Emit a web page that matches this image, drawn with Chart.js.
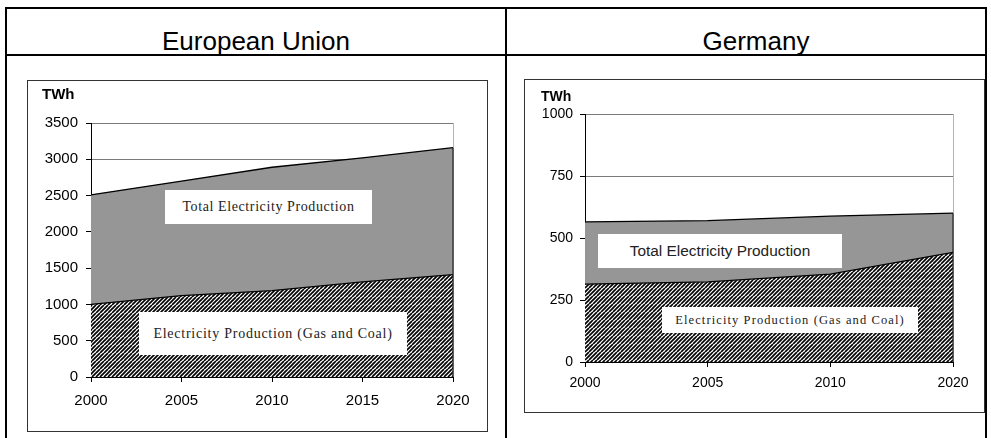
<!DOCTYPE html>
<html>
<head>
<meta charset="utf-8">
<script src="https://cdn.jsdelivr.net/npm/chart.js@4.4.0/dist/chart.umd.min.js"></script>
<style>
body { margin:0; background:#fff; width:991px; height:438px; overflow:hidden; position:relative; font-family:"Liberation Sans", Arial, sans-serif; }
.ln { position:absolute; background:#000; }
.head { position:absolute; top:24px; height:34px; line-height:34px; font-size:26px; text-align:center; white-space:nowrap; }
.frame { position:absolute; border:1px solid #333; box-sizing:border-box; }
.wrap { position:absolute; }
.twh { position:absolute; font-weight:bold; line-height:1; }
.box { position:absolute; background:#fff; text-align:center; white-space:nowrap; color:#222; font-family:"Liberation Serif", "Times New Roman", serif; }
</style>
</head>
<body>
<!-- table lines -->
<div class="ln" style="left:5px;top:7px;width:982px;height:2px"></div>
<div class="ln" style="left:5px;top:54px;width:982px;height:2px"></div>
<div class="ln" style="left:5px;top:7px;width:2px;height:431px"></div>
<div class="ln" style="left:505px;top:7px;width:2px;height:431px"></div>
<div class="ln" style="left:985px;top:7px;width:2px;height:431px"></div>

<div class="head" style="left:7px;width:498px">European Union</div>
<div class="head" style="left:656px;width:200px">Germany</div>

<div class="frame" style="left:27px;top:80px;width:461px;height:352px"></div>
<div class="frame" style="left:524px;top:79px;width:461px;height:334px"></div>

<div class="wrap" style="left:28px;top:81px;width:458px;height:350px"><canvas id="eu"></canvas></div>
<div class="wrap" style="left:525px;top:80px;width:459px;height:332px"><canvas id="de"></canvas></div>

<div class="twh" style="left:42px;top:86px;font-size:15px">TWh</div>
<div class="twh" style="left:541px;top:89px;font-size:14px">TWh</div>

<div class="box" style="left:165px;top:190px;width:207px;height:34px;line-height:34px;font-size:14px;letter-spacing:0.6px">Total Electricity Production</div>
<div class="box" style="left:139px;top:312px;width:268px;height:43px;line-height:43px;font-size:14px;letter-spacing:0.75px">Electricity Production (Gas and Coal)</div>
<div class="box" style="left:598px;top:234px;width:244px;height:34px;line-height:34px;font-size:15.4px;font-family:'Liberation Sans', Arial, sans-serif">Total Electricity Production</div>
<div class="box" style="left:662px;top:307px;width:256px;height:26px;line-height:26px;font-size:12.5px;letter-spacing:1.1px">Electricity Production (Gas and Coal)</div>

<script>
// data (TWh)
const euYears = ['2000', '2005', '2010', '2015', '2020'];
const euTotal = [2510, 2700, 2890, 3020, 3160];
const euGasCoal = [1000, 1120, 1190, 1310, 1410];

const deYears = ['2000', '2005', '2010', '2020'];
const deTotal = [565, 570, 588, 600];
const deGasCoal = [314, 323, 354, 442];

const euTicks = [0, 500, 1000, 1500, 2000, 2500, 3000, 3500];
const deTicks = [0, 250, 500, 750, 1000];

function hatch() {
    const c = document.createElement('canvas');
    c.width = 8; c.height = 8;
    const x = c.getContext('2d');
    x.fillStyle = '#fff';
    x.fillRect(0, 0, 8, 8);
    x.strokeStyle = '#000';
    x.lineWidth = 1.7;
    for (let k = -8; k <= 8; k += 4) {
        x.beginPath(); x.moveTo(k, 8); x.lineTo(k + 8, 0); x.stroke();
    }
    return x.createPattern(c, 'repeat');
}

// light right edge of the plot, dark edge where the areas are
const plotEdge = {
    id: 'plotEdge',
    beforeDatasetsDraw(ch) {
        const a = ch.chartArea, g = ch.ctx;
        g.save();
        g.strokeStyle = '#b4b4b4'; g.lineWidth = 1;
        g.beginPath(); g.moveTo(a.right + 0.5, a.top); g.lineTo(a.right + 0.5, a.bottom); g.stroke();
        g.restore();
    },
    afterDatasetsDraw(ch) {
        const a = ch.chartArea, g = ch.ctx;
        const tot = ch.data.datasets[1].data;
        const yTop = ch.scales.y.getPixelForValue(tot[tot.length - 1]);
        g.save();
        g.strokeStyle = '#222'; g.lineWidth = 1.2;
        g.beginPath(); g.moveTo(a.right, yTop); g.lineTo(a.right, a.bottom); g.stroke();
        g.restore();
    }
};

function makeChart(id, labels, total, gas, ticks, c) {
    return new Chart(document.getElementById(id), {
        type: 'line',
        data: {
            labels: labels,
            datasets: [{
                label: 'Electricity Production (Gas and Coal)',
                data: gas,
                borderColor: '#000', borderWidth: 1.3,
                backgroundColor: hatch(),
                fill: 'origin', pointRadius: 0, tension: 0
            }, {
                label: 'Total Electricity Production',
                data: total,
                borderColor: '#000', borderWidth: 1.3,
                backgroundColor: '#969696',
                fill: '-1', pointRadius: 0, tension: 0
            }]
        },
        options: {
            responsive: true, maintainAspectRatio: false, animation: false,
            layout: { padding: { top: c.top, right: c.right, left: 0, bottom: 0 } },
            plugins: { legend: { display: false }, tooltip: { enabled: false } },
            scales: {
                x: {
                    offset: false,
                    grid: { drawOnChartArea: false, tickLength: 5, tickColor: '#000' },
                    border: { color: '#000', width: 1 },
                    ticks: { color: '#000', padding: c.xpad, maxRotation: 0, font: { family: 'Liberation Sans', size: c.font } },
                    afterFit(s) { s.height = c.xh; }
                },
                y: {
                    min: ticks[0], max: ticks[ticks.length - 1],
                    afterBuildTicks(s) { s.ticks = ticks.map(v => ({ value: v })); },
                    grid: { color: '#7a7a7a', lineWidth: 1, tickLength: 5, tickColor: '#000' },
                    border: { color: '#000', width: 1 },
                    ticks: {
                        color: '#000', padding: c.ypad,
                        font: { family: 'Liberation Sans', size: c.font },
                        callback: v => String(v)
                    },
                    afterFit(s) { s.width = c.yw; }
                }
            }
        },
        plugins: [plotEdge]
    });
}

makeChart('eu', euYears, euTotal, euGasCoal, euTicks, { top: 42, right: 33, yw: 63, xh: 54, xpad: 10, ypad: 8, font: 15 });
makeChart('de', deYears, deTotal, deGasCoal, deTicks, { top: 34, right: 31, yw: 60, xh: 50, xpad: 8, ypad: 7, font: 14 });
</script>
</body>
</html>
